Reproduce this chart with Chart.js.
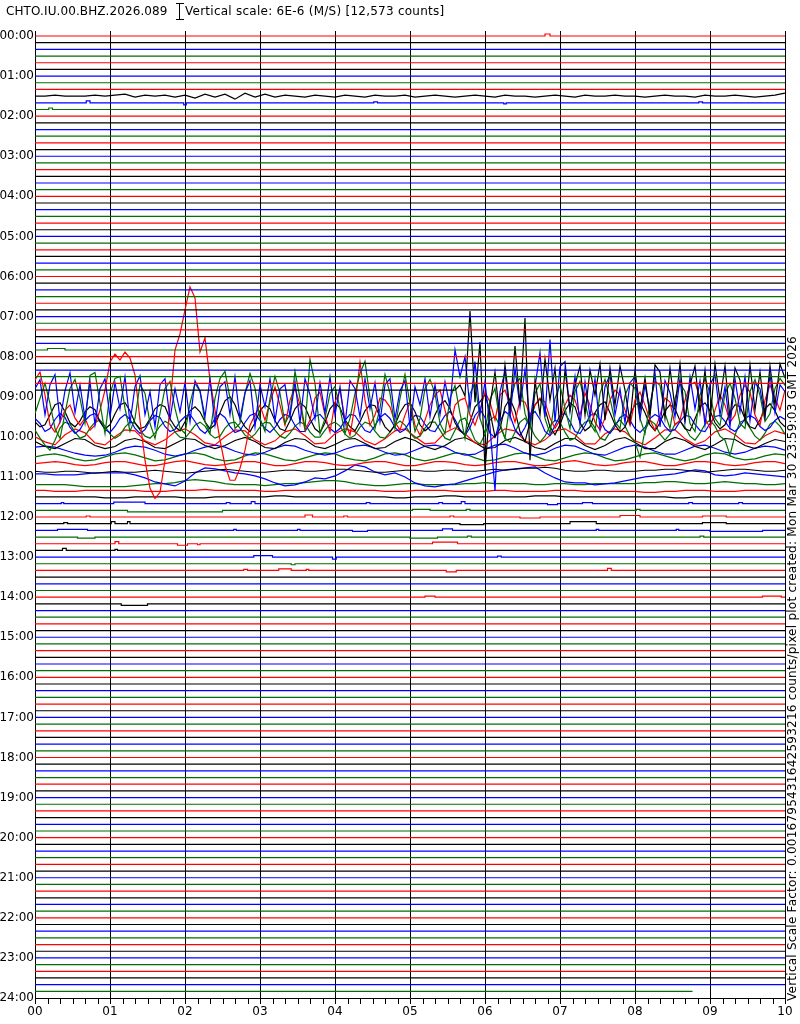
<!DOCTYPE html>
<html>
<head>
<meta charset="utf-8">
<script src="https://cdn.jsdelivr.net/npm/chart.js@4"></script>
<style>
  body { margin: 0; background: #fff; }
  #wrap { position: relative; width: 800px; height: 1024px; }
  #heli { display: block; }
  .txt { position: absolute; font: 12px "DejaVu Sans"; line-height: 14px; color: #000; white-space: nowrap; }
  #station { left: 6px; top: 4px; letter-spacing: 0.1px; }
  #scale { left: 185px; top: 4px; letter-spacing: 0.25px; }
  #side { left: 785px; top: 1001px; transform: rotate(-90deg); transform-origin: 0 0; letter-spacing: 0.25px; }
</style>
</head>
<body>
<div id="wrap">
  <canvas id="heli" width="800" height="1024"></canvas>
  <div class="txt" id="station">CHTO.IU.00.BHZ.2026.089</div>
  <div class="txt" id="scale">Vertical scale: 6E-6 (M/S) [12,573 counts]</div>
  <div class="txt" id="side">Vertical Scale Factor: 0.0016795431642593216 counts/pixel plot created: Mon Mar 30 23:59:03 GMT 2026</div>
</div>
<script>
'use strict';

// axis labels
const minuteTicks = [0, 60, 120, 180, 240, 300, 360, 420, 480, 540, 600];
const minuteLabels = ['00', '01', '02', '03', '04', '05', '06', '07', '08', '09', '10'];
const hourLabels = ['00:00', '01:00', '02:00', '03:00', '04:00', '05:00', '06:00', '07:00',
  '08:00', '09:00', '10:00', '11:00', '12:00', '13:00', '14:00', '15:00', '16:00',
  '17:00', '18:00', '19:00', '20:00', '21:00', '22:00', '23:00', '24:00'];
const traceColors = ['#ff0000', '#000000', '#0000ff', '#006e00'];
const lastSampleSec = 526;   // data stops in the 23:50 line

// deflections (pixels, up = positive), sampled every dt seconds
const trace0130 = [0, 0, 1, 0, 0, 0, 1, 0, 1, 2,
  -1, 1, 0, 1, -1, 1, -2, 2, -1, 2,
  -3, 3, -1, 2, -1, 1, 0, -1, 1, 0,
  -1, 1, 0, -1, 1, 0, 0, 1, -1, 0,
  1, 0, -1, 0, 1, 0, -1, 1, 0, 0,
  -1, 0, 1, 0, -1, 1, 0, 0, 1, 0,
  0, -1, 0, 1, 0, 0, -1, 1, 0, 0,
  1, 0, -1, 0, 1, 3];

const trace0850 = [0, 5, -6, 79, -12, 48, -80, -15, 18, -30,
  25, -20, 44, -15, 72, -70, 10, -25, 31, -10,
  22, -39, 20, -20, 5, 24, -25, 20, -5, 26,
  -30, 22, -15, 24, 0, -32, 20, -20, 12, -26,
  25, 18, -28, 22, -18, 26, -30, 5, 24, -22,
  20, -32, 26, -10, 24, -28, 22, 10, -30, 25,
  -20, 18, -26, 24, -15, 26, 12];

const trace0900 = [8, 17, -18, 12, 22, -24, 6, 24, -16, 12,
  -22, 15, -28, 8, 18, -20, 14, -12, 20, -26,
  10, 21, -18, 5, -30, 12, 18, -22, 8, -15,
  14, -25, 16, 6, -20, 18, -28, 10, 15, -18,
  20, -22, 4, 16, -30, 12, -10, 18, -24, 8,
  12, -20, 15, -26, 18, 2, -22, 14, -16, 20,
  -18, 10, -28, 16, 8, -20, 18, -12, 14, -25,
  12, 18, -22, 6, 16, -30, 10, -8, 18, -20,
  12, -18, 15, -10, 47, 20, 40, -12, 35, -18,
  15, -30, -94, 5, 25, -20, 28, -10, 27, -25,
  10, 44, -20, 57, -25, 30, 35, -15, 20, -28,
  15, -20, 18, -32, 10, 22, -18, 8, -26, 14,
  20, -22, 12, -15, 24, -30, 16, 4, -20, 18,
  -25, 20, -12, 16, -28, 12, 22, -18, 10, -30,
  18, -15, 20, -24, 14, 8, -20, 22, -16, 12, 5];

const trace0910 = [-10, 5, 20, 0, -25, -35, -10, 15, 24, 5,
  -20, 28, 31, 0, -30, 10, 25, 27, -5, -28,
  -15, 19, 10, -20, -35, -10, 15, 22, -5, -25,
  -30, 0, 20, 12, -18, -30, 5, 25, 32, 5,
  -25, -20, 10, 30, 15, -15, -28, 5, 27, 10,
  -20, -10, 32, 5, -25, 44, 20, -30, -15, 10,
  17, -5, -30, -15, 10, 30, 42, 5, -25, -5,
  29, 10, -25, 5, 29, 0, -28, -15, 15, 24,
  10, -20, -30, 5, 18, -10, -35, 10, 20, -15,
  -30, 4, 15, -20, -35, 0, 20, 25, -10, -25,
  10, 20, -15, -30, 5, 18, -5, -25, 12, 22,
  0, -20, -28, 10, 24, 5, -18, -25, 8, 20,
  15, -15, -30, 0, 22, 18, -10, -25, 5, 20,
  12, -20, -28, 8, 25, 10, -15, -22, 10, 20,
  5, -20, -25, 12, 24, 8, -18, -10, 15, 25, 18];

const trace0920 = [30, 38, 15, -15, -22, -12, 0, 5, -8, -15,
  -8, -20, -15, 0, 20, 48, 56, 50, 58, 52,
  35, -10, -50, -78, -88, -82, -50, 5, 60, 76,
  100, 123, 112, 58, 72, 30, 0, -30, -55, -70,
  -70, -58, -40, -15, -5, 5, -10, 8, 23, 5,
  -15, 10, 22, 5, -20, -10, 12, 18, -5, -22,
  8, 20, -10, -25, 5, 48, 10, -15, -5, 12,
  10, 3, -12, -20, -5, 8, -15, -25, -10, 5,
  15, 20, 0, -18, 5, 10, 12, -5, -15, 0,
  18, 8, -10, 15, 20, 5, -12, 10, 8, -5,
  5, 12, 8, -8, -18, -10, 5, 15, 10, -5,
  17, 5, -12, -20, -8, 10, 20, 15, 0, -15,
  10, 18, 5, -10, -20, -5, 12, 8, -15, -10,
  10, 25, 28, 12, -8, -18, 0, 15, 5, -12,
  -5, 15, 25, 18, -5, -15, 10, 25, 12, 0, 20];

const trace0930 = [-5, -10, -8, 2, 12, 14, 5, -6, -10, -4,
  5, 10, 7, -5, -12, -8, 3, 12, 14, 6,
  -6, -12, -10, -2, 8, 12, 10, -2, -10, -14,
  -5, 6, 10, 5, -5, -12, -8, 4, 16, 20,
  12, -2, -10, -15, -6, 6, 12, 8, -4, -12,
  -14, -4, 8, 14, 10, -2, -12, -16, -6, 8,
  14, 9, -3, -10, -14, -5, 6, 12, 11, 0,
  -10, -15, -8, 4, 12, 14, 5, -8, -14, -10,
  2, 12, 16, 8, -6, -14, -18, -5, 10, 15,
  22, 5, -20, -12, 10, 18, 6, -15, -25, -5,
  12, 18, 8, -10, -18, -8, 6, 14, 10, -6,
  -14, -10, 4, 12, 15, 4, -8, -15, -10, 2,
  12, 14, 4, -8, -14, -6, 6, 12, 8, -4,
  -12, -14, -2, 10, 14, 6, -6, -12, -8, 4,
  12, 10, -2, -10, -12, -3, 8, 13, 6, -5, -10];

const trace0940 = [5, 0, -8, -5, 4, 10, 6, -4, -10, -6,
  3, 8, 10, 2, -6, -9, -3, 5, 9, 4,
  -5, -10, -6, 3, 8, 6, -3, -8, -6, 2,
  7, 9, 2, -6, -10, -4, 5, 10, 6, -3,
  -9, -7, 1, 8, 10, 3, -5, -9, -4, 4,
  9, 7, -2, -8, -8, 0, 7, 9, 3, -5,
  -9, -5, 3, 9, 8, 0, -7, -9, -2, 6,
  10, 5, -4, -9, -6, 2, 8, 7, -1, -7,
  -8, 0, 8, 12, 4, -6, -12, -4, 8, 14,
  6, -10, -14, 2, 12, 8, -6, -12, -4, 8,
  12, 4, -8, -12, -2, 8, 10, 2, -8, -10,
  -2, 8, 10, 4, -6, -10, -3, 6, 9, 3,
  -5, -9, -4, 5, 9, 6, -3, -8, -6, 2,
  8, 7, -1, -7, -8, 0, 7, 8, 2, -5,
  -8, -3, 5, 8, 5, -3, -7, -4, 3, 7, 4];

const trace0950 = [0, -8, -15, -20, -10, 2, 8, 6, -2, -8,
  -6, 2, 8, 10, 4, -4, -8, -5, 3, 8,
  7, 0, -6, -8, -3, 4, 9, 6, -2, -7,
  -8, -2, 5, 8, 4, -4, -8, -6, 2, 7,
  8, 2, -5, -8, -4, 3, 8, 7, 0, -6,
  -8, -3, 4, 8, 6, -2, -7, -7, 0, 6,
  8, 4, -4, -8, -5, 3, 8, 6, -1, -7,
  -8, -2, 5, 9, 5, -3, -8, -6, 2, 8,
  8, 0, -8, -10, 0, 10, 12, 2, -10, -14,
  -4, 10, 14, 4, -8, -12, -2, 8, 12, 4,
  -6, -12, -6, 4, 10, 8, -2, -10, -8, 2,
  8, 10, 2, -8, -10, -2, 6, 10, 4, -6,
  -12, -27, 0, 10, 6, -4, -10, -4, 6, 9,
  3, -6, -10, -3, 6, 10, 4, -6, -10, -25,
  -5, 8, 10, 2, -6, -10, -3, 6, 9, 4, -4];

const trace1000 = [0, -5, -8, 2, 8, 4, -6, -8, 0, 7,
  6, -4, -8, -3, 5, 8, 2, -6, -8, 0,
  7, 6, -3, -8, -4, 5, 8, 1, -7, -6,
  3, 8, 5, -4, -8, -2, 6, 8, 0, -7,
  -6, 4, 9, 3, -6, -8, 1, 8, 6, -4,
  -8, -3, 6, 8, 2, -7, -7, 3, 8, 5,
  -4, -8, -1, 7, 7, -2, -8, -4, 5, 8,
  2, -6, -7, 1, 6, 3];

const trace1010 = [2, -3, -5, 0, 5, 4, -2, -5, -3, 3,
  5, 2, -4, -5, 0, 5, 4, -2, -5, -2,
  3, 6, 2, -4, -5, 1, 5, 4, -3, -5,
  -1, 4, 5, 0, -5, -4, 2, 6, 3, -3,
  -6, -2, 4, 6, 1, -5, -4, 3, 6, 2,
  -4, -6, 0, 5, 5, -2, -6, -2, 4, 6,
  1, -5, -5, 2, 6, 3, -3, -6, -1, 5,
  4, -2, -5, 0, 4, 2];

const trace1020 = [3, 4, 3, 0, -3, -5, -6, -5, -2, 2,
  4, 3, 0, -4, -6, -4, 0, 3, 5, 3,
  -1, -4, -5, -2, 2, 5, 4, 0, -3, -5,
  -3, 1, 4, 5, 2, -2, -5, -4, 0, 4,
  5, 3, -2, -5, -4, 1, 5, 6, 2, -3,
  -5, -3, 2, 5, 4, 0, -4, -5, -1, 3,
  5, 3, -1, -4, -4, 0, 4, 5, 2, -2,
  -4, -2, 2, 4, 3, 0];

const trace1030 = [0, 2, 3, 1, -2, -4, -3, 0, 3, 4,
  2, -1, -4, -3, 0, 3, 4, 2, -2, -4,
  -3, 1, 4, 3, 0, -3, -4, -1, 2, 4,
  3, -1, -3, -4, -1, 3, 4, 2, -2, -4,
  -2, 1, 4, 3, -1, -4, -3, 0, 3, 4,
  1, -3, -4, -1, 2, 4, 3, -1, -4, -3,
  0, 3, 4, 1, -2, -4, -2, 2, 4, 3,
  -1, -3, -2, 1, 3, 2];

const trace1040 = [0, 1, 2, 1, -1, -2, -1, 1, 2, 2,
  0, -2, -2, 0, 2, 3, 1, -1, -2, -1,
  1, 2, 2, 0, -2, -2, 0, 2, 2, 1,
  -1, -2, -1, 1, 2, 2, 0, -2, -2, 0,
  2, 2, 1, -1, -2, -1, 1, 2, 2, 0,
  -2, -2, 0, 2, 3, 1, -1, -2, -1, 1,
  2, 2, 0, -2, -2, 0, 2, 2, 1, -1,
  -2, -1, 1, 2, 2, 0];

const trace1050 = [-1, -2, -2, -1, -1, -2, -3, -2, -1, -2,
  -2, -1, 0, -1, -2, -3, -2, -1, 0, 1,
  0, -1, -2, -2, -1, 0, 0, -1, -1, 0,
  1, 1, 0, -1, -2, -2, -1, 0, 0, -1,
  -1, 0, 0, -1, -1, 0, 1, 0, 1, 2,
  2, 3, 2, 0, -1, -1, 0, 0, -1, -1,
  -1, 0, 0, 1, 1, 0, -1, -2, -1, 0,
  1, 1, 0, -1, -1, 0];

const trace1100 = [3, 3, 2, 2, 2, 3, 4, 4, 4, 4,
  2, -1, -5, -7, -9, -4, 4, 9, 8, 6,
  4, 3, 1, -2, -6, -9, -8, -5, -1, -2,
  1, 6, 12, 10, 5, 2, 4, 0, -6, -9,
  -10, -8, -7, -4, -1, 2, 5, 7, 8, 9,
  10, 4, -1, -5, -6, -6, -8, -7, -6, -4,
  -2, 0, 1, 2, 3, 5, 7, 6, 2, 1,
  2, 4, 3, 2, 1, 0];

const trace1110 = [-1, -1, -1, -1, -2, -3, -3, -3, -3, -3,
  -2, -1, 0, 0, 1, 3, 4, 3, 2, 0,
  -1, -1, -1, -2, -1, 0, 0, 1, 2, 3,
  3, 2, 0, -1, -2, -2, -1, 0, 0, -1,
  -1, -1, -1, 0, 0, 1, 0, 0, 0, 0,
  -1, -1, 0, 0, -1, -1, 0, 0, 0, 0,
  0, 1, 1, 2, 2, 1, 0, 0, 1, 2,
  1, 0, 0, -1, -1, 0];

const trace1120 = [0, 0, -1, -1, -1, 0, 0, 0, 0, 0,
  0, -1, -1, -1, 0, 0, 0, 1, 0, 0,
  0, 0, 0, -1, -1, 0, 0, 0, 0, 0,
  0, 0, 0, 0, 0, -1, -1, -1, 0, 0,
  0, 0, -1, -1, -1, -1, 0, 0, -1, -1,
  -1, -1, 0, 0, 0, -1, -1, -1, -1, -1,
  -1, -2, -2, -1, -1, 0, 0, 0, -1, -1,
  -1, 0, 0, 0, 0, 0];

const trace1130 = [0, 0, 0, 0, 0, 0, 0, -1, -1, -1,
  0, 0, 0, 0, 0, -1, -1, -1, 0, 0,
  0, 0, 0, 0, 1, 1, 0, 0, 0, 0,
  0, 0, 0, 0, 0, 0, -1, -1, 0, 0,
  0, 1, 1, 0, 0, 0, 0, 0, 0, 0,
  1, 1, 1, 0, 0, 0, 0, 0, 0, 0,
  0, 0, 0, 0, -1, -1, 0, 0, 0, 0,
  0, 0, 0, 0, 0, 0];

// small steps on quiet lines: [from sec, to sec, deflection]
const blips0000 = [[408, 412, 2]];
const blips0140 = [[41, 44, 2], [119, 121, -2], [271, 274, 1], [375, 377, -1], [531, 534, 1]];
const blips0150 = [[11, 14, 1.5]];
const blips0750 = [[10, 24, 1.5]];
const blips1140 = [[21, 23, 1], [63, 88, 1.5], [153, 156, 1], [173, 176, 2], [265, 268, 1],
  [323, 326, 1], [341, 344, 2], [410, 418, -1], [438, 446, 1], [523, 526, 1], [563, 566, 1]];
const blips1150 = [[74, 150, -1.5], [302, 316, 1], [345, 348, 1], [481, 484, 1]];
const blips1200 = [[41, 44, 1], [216, 222, 2], [247, 250, 1], [332, 335, 1], [388, 404, -1],
  [468, 484, 1.5], [534, 553, 1]];
const blips1210 = [[23, 26, 1], [61, 64, 2], [74, 76, 2], [340, 359, -1], [428, 449, 2], [534, 553, 1]];
const blips1220 = [[18, 42, 1], [159, 161, 1], [210, 212, 1], [254, 266, -1], [326, 334, 1.5],
  [449, 451, 1], [513, 515, 1], [540, 582, -1]];
const blips1230 = [[34, 48, -1], [300, 322, -1], [346, 349, 1], [532, 535, 1]];
const blips1240 = [[64, 67, 2], [114, 122, -1.5], [130, 132, -1], [318, 338, 1.5]];
const blips1250 = [[22, 25, 2], [64, 66, 1]];
const blips1300 = [[175, 190, 1.5], [238, 241, -2], [370, 373, 1]];
const blips1310 = [[205, 208, -1]];
const blips1320 = [[167, 170, 1], [195, 205, 1.5], [217, 219, 1], [329, 337, -1.5], [458, 461, 2]];
const blips1400 = [[312, 320, 1], [582, 597, 1]];
const blips1410 = [[69, 90, -1.5]];

// [line index (10 min each), start sec, sample step sec, values]
const sampled = [
  [9, 0, 8, trace0130], [53, 336, 4, trace0850], [54, 0, 4, trace0900],
  [55, 0, 4, trace0910], [56, 0, 4, trace0920], [57, 0, 4, trace0930],
  [58, 0, 4, trace0940], [59, 0, 4, trace0950], [60, 0, 8, trace1000],
  [61, 0, 8, trace1010], [62, 0, 8, trace1020], [63, 0, 8, trace1030],
  [64, 0, 8, trace1040], [65, 0, 8, trace1050], [66, 0, 8, trace1100],
  [67, 0, 8, trace1110], [68, 0, 8, trace1120], [69, 0, 8, trace1130]
];
const stepped = [
  [0, blips0000], [10, blips0140], [11, blips0150], [47, blips0750], [70, blips1140],
  [71, blips1150], [72, blips1200], [73, blips1210], [74, blips1220], [75, blips1230],
  [76, blips1240], [77, blips1250], [78, blips1300], [79, blips1310], [80, blips1320],
  [84, blips1400], [85, blips1410]
];

const TRACES = 144;
const perTrace = 40 / 6;   // y units per line (40 per hour)

const curves = {};
sampled.forEach(([k, t0, dt, vals]) => {
  const pts = t0 > 0 ? [[0, 0]] : [];
  vals.forEach((v, i) => pts.push([t0 + i * dt, v]));
  curves[k] = pts;
});
stepped.forEach(([k, list]) => {
  const pts = [[0, 0]];
  list.forEach(([a, b, v]) => pts.push([a, 0], [a, v], [b, v], [b, 0]));
  pts.push([600, 0]);
  curves[k] = pts;
});

const datasets = [];
for (let k = 0; k < TRACES; k++) {
  const end = k === TRACES - 1 ? lastSampleSec : 600;
  const base = k * perTrace;
  const pts = curves[k] || [[0, 0], [end, 0]];
  datasets.push({
    data: pts.filter(p => p[0] <= end).map(([t, v]) => ({ x: t, y: base - v })),
    borderColor: traceColors[k % 4],
    borderWidth: 1.2,
    pointRadius: 0,
    tension: 0,
    fill: false
  });
}

const extras = {
  id: 'extras',
  afterDraw(chart) {
    const { ctx, chartArea, scales: { x } } = chart;
    ctx.save();
    ctx.strokeStyle = '#000';
    ctx.lineWidth = 1;
    ctx.beginPath();
    for (let t = 10; t < 600; t += 10) {
      if (t % 60 === 0) continue;
      const px = Math.round(x.getPixelForValue(t)) + 0.5;
      ctx.moveTo(px, chartArea.bottom);
      ctx.lineTo(px, chartArea.bottom + 6);
    }
    // scale bar next to the station name
    ctx.moveTo(179.5, 3); ctx.lineTo(179.5, 20);
    ctx.moveTo(176, 3.5); ctx.lineTo(184, 3.5);
    ctx.moveTo(176, 19.5); ctx.lineTo(184, 19.5);
    ctx.stroke();
    ctx.restore();
  }
};

Chart.defaults.font.family = 'DejaVu Sans';
Chart.defaults.font.size = 12;
Chart.defaults.color = '#000';

const ctx = document.getElementById('heli').getContext('2d');
new Chart(ctx, {
  type: 'line',
  data: { datasets },
  options: {
    responsive: false,
    animation: false,
    events: [],
    layout: { padding: { top: 31, right: 15, left: 0, bottom: 0 } },
    plugins: { legend: { display: false }, tooltip: { enabled: false } },
    scales: {
      x: {
        type: 'linear', min: 0, max: 600,
        afterBuildTicks: s => { s.ticks = minuteTicks.map(v => ({ value: v })); },
        afterFit: s => { s.height = 26; },
        grid: { color: '#000', lineWidth: 1, tickLength: 6 },
        border: { color: '#000', width: 1 },
        ticks: { callback: (v, i) => minuteLabels[i], padding: 1, maxRotation: 0, autoSkip: false }
      },
      y: {
        type: 'linear', reverse: true, min: -5, max: 960,
        afterBuildTicks: s => { s.ticks = hourLabels.map((_, i) => ({ value: i * 40 })); },
        afterFit: s => { s.width = 35; },
        grid: { display: false, drawTicks: false },
        border: { color: '#000', width: 1 },
        ticks: { callback: (v, i) => hourLabels[i], padding: 1, autoSkip: false }
      }
    }
  },
  plugins: [extras]
});
</script>
</body>
</html>
